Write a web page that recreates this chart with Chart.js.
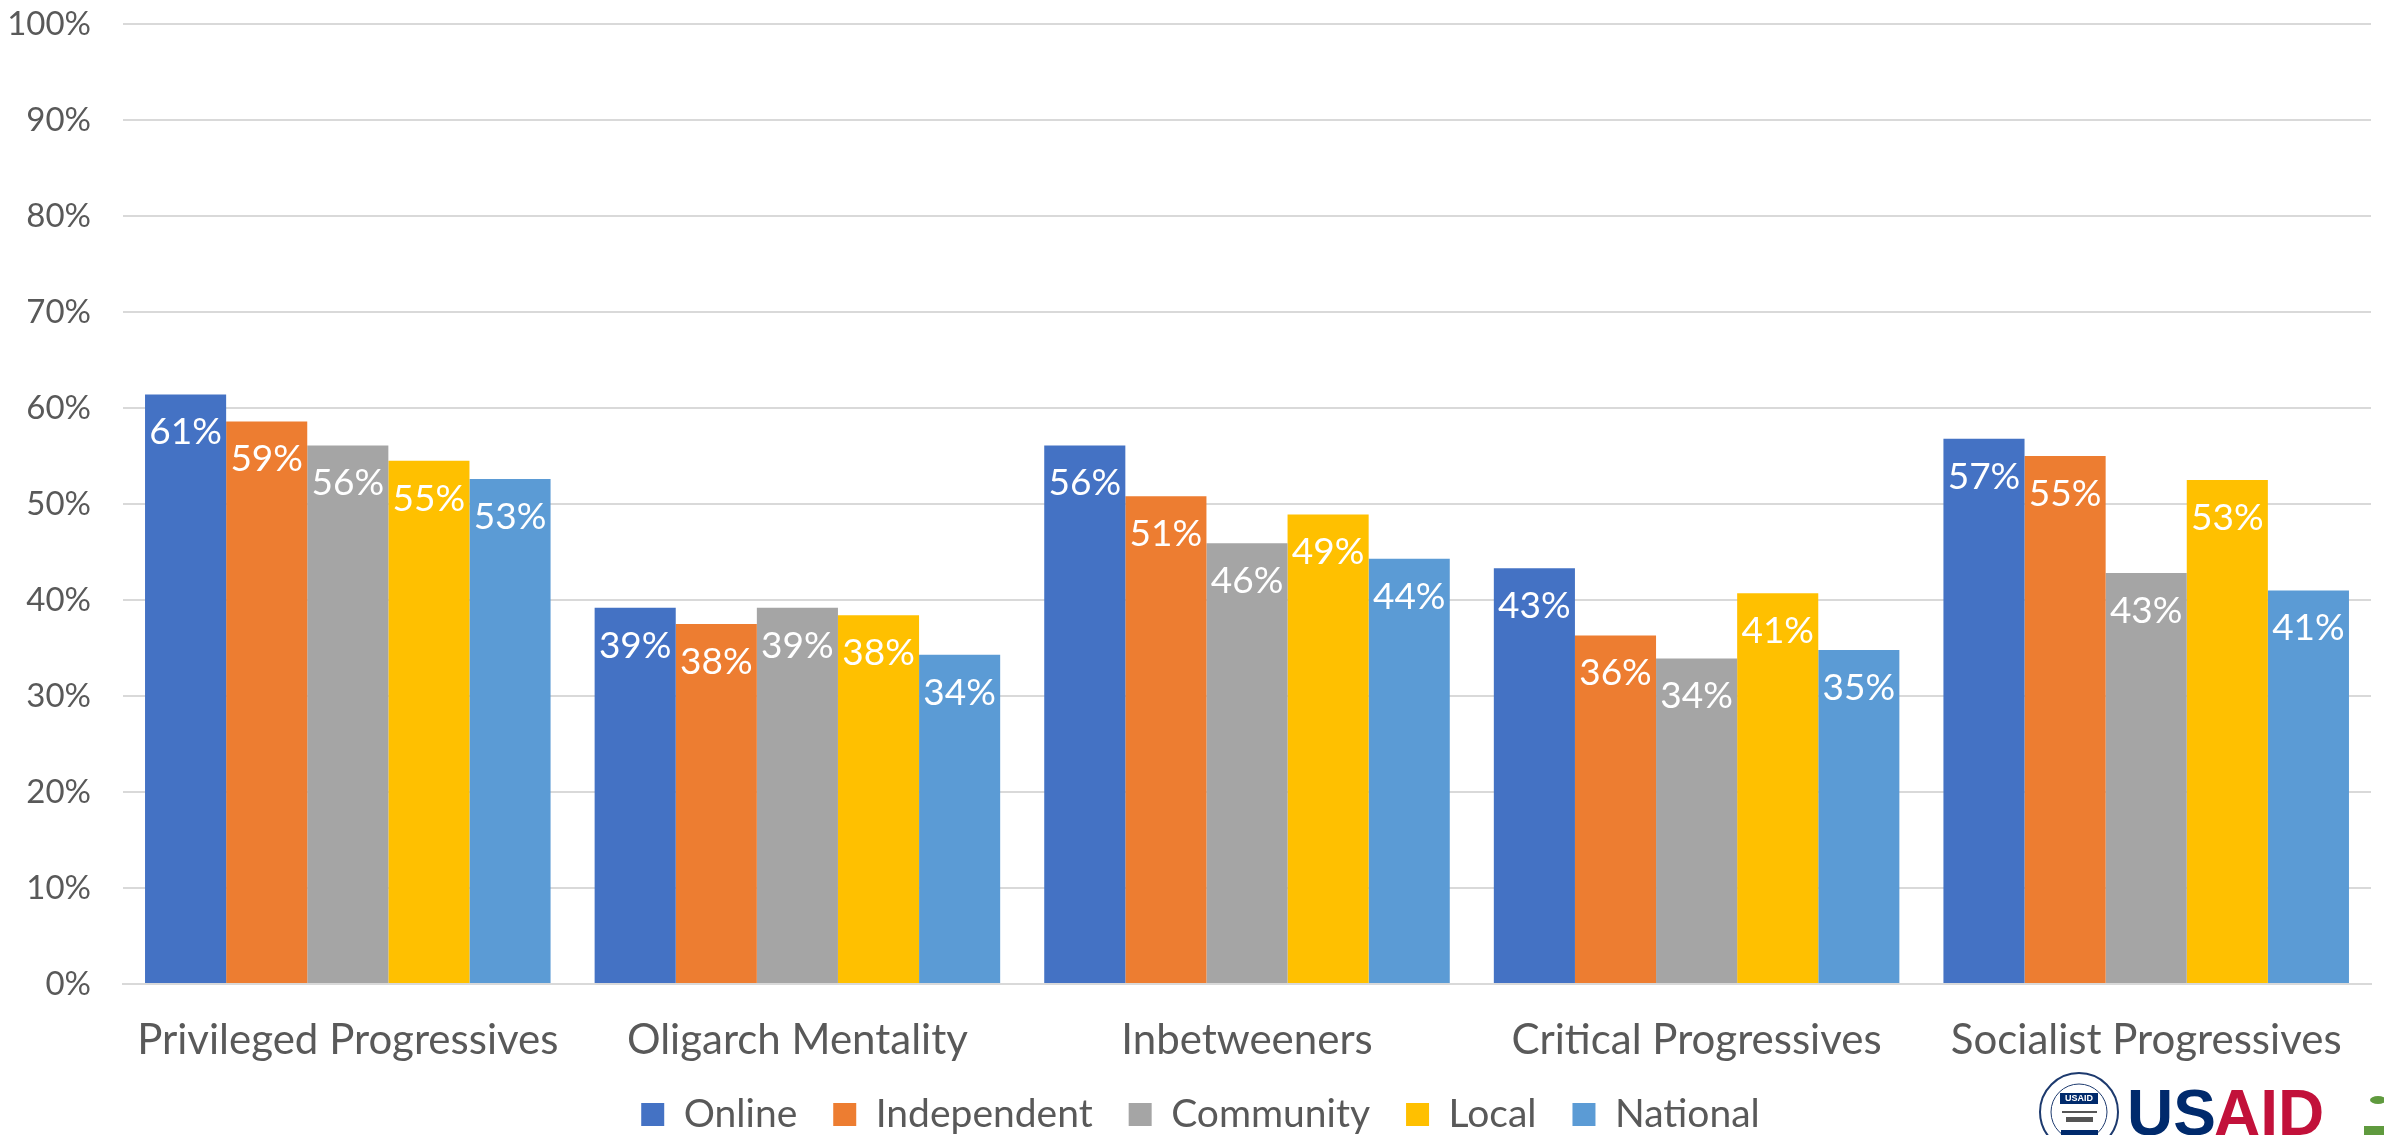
<!DOCTYPE html>
<html>
<head>
<meta charset="utf-8">
<title>Media trust by segment</title>
<script src="https://cdn.jsdelivr.net/npm/chart.js@4"></script>
<style>
  html, body { margin: 0; padding: 0; background: #fff; overflow: hidden; }
  canvas { display: block; }
</style>
</head>
<body>
<canvas id="chart" width="2384" height="1135"></canvas>
<script>
const categories = ["Privileged Progressives", "Oligarch Mentality", "Inbetweeners", "Critical Progressives", "Socialist Progressives"];
const online = [61.4, 39.2, 56.1, 43.3, 56.8];
const independent = [58.6, 37.5, 50.8, 36.3, 55.0];
const community = [56.1, 39.2, 45.9, 33.9, 42.8];
const local = [54.5, 38.4, 48.9, 40.7, 52.5];
const national = [52.6, 34.3, 44.3, 34.8, 41.0];

const fontName = "Lato";
const textGrey = "#595959";

// white value labels just under the top of each bar
const barLabels = {
  id: "barLabels",
  afterDatasetsDraw(chart) {
    const ctx = chart.ctx;
    ctx.save();
    ctx.font = "37px " + fontName;
    ctx.fillStyle = "#fff";
    ctx.textAlign = "center";
    ctx.textBaseline = "middle";
    chart.data.datasets.forEach((ds, i) => {
      chart.getDatasetMeta(i).data.forEach((bar, j) => {
        ctx.fillText(Math.round(ds.data[j]) + "%", bar.x, bar.y + 38);
      });
    });
    ctx.restore();
  }
};

// axis labels get clipped to the scale box, and the legend sits a bit right of centre
const layoutTweaks = {
  id: "layoutTweaks",
  afterLayout(chart) {
    chart.scales.x.bottom = chart.height;
    chart.legend.left += 30;
  }
};

// sponsor logo cut off by the bottom edge
const logo = {
  id: "logo",
  afterDraw(chart) {
    const ctx = chart.ctx;
    ctx.save();
    ctx.strokeStyle = "#1d3a6e";
    ctx.lineWidth = 2;
    ctx.beginPath();
    ctx.arc(2079, 1112, 39, 0, Math.PI * 2);
    ctx.stroke();
    ctx.lineWidth = 1;
    ctx.beginPath();
    ctx.arc(2079, 1112, 28, 0, Math.PI * 2);
    ctx.stroke();
    ctx.fillStyle = "#002a6c";
    ctx.fillRect(2060, 1093, 38, 11);
    ctx.fillRect(2061, 1130, 37, 5);
    ctx.fillStyle = "#fff";
    ctx.font = "bold 9px 'Liberation Sans'";
    ctx.textAlign = "center";
    ctx.textBaseline = "middle";
    ctx.fillText("USAID", 2079, 1099);
    ctx.fillStyle = "#555";
    ctx.fillRect(2062, 1111, 35, 2);
    ctx.fillRect(2066, 1117, 27, 5);
    ctx.textAlign = "left";
    ctx.textBaseline = "alphabetic";
    ctx.font = "bold 64px 'Liberation Sans'";
    ctx.fillStyle = "#002a6c";
    ctx.fillText("US", 2127, 1135);
    const usWidth = ctx.measureText("US").width;
    ctx.fillStyle = "#c2113a";
    ctx.fillText("AID", 2127 + usWidth - 2, 1135);
    ctx.fillStyle = "#5f9a3e";
    ctx.fillRect(2364, 1126, 20, 9);
    ctx.beginPath();
    ctx.ellipse(2378, 1100, 8, 4, 0, 0, Math.PI * 2);
    ctx.fill();
    ctx.restore();
  }
};

const chart = new Chart("chart", {
  type: "bar",
  data: {
    labels: categories,
    datasets: [
      { label: "Online", data: online, backgroundColor: "#4472c4" },
      { label: "Independent", data: independent, backgroundColor: "#ed7d31" },
      { label: "Community", data: community, backgroundColor: "#a5a5a5" },
      { label: "Local", data: local, backgroundColor: "#ffc000" },
      { label: "National", data: national, backgroundColor: "#5b9bd5" }
    ]
  },
  options: {
    responsive: false,
    animation: false,
    barPercentage: 1,
    categoryPercentage: 0.902,
    layout: { padding: { top: 24, right: 13, left: 0, bottom: -9 } },
    scales: {
      x: {
        grid: { display: false },
        border: { color: "#d9d9d9", width: 2 },
        ticks: { color: textGrey, font: { family: fontName, size: 42 }, padding: 23, maxRotation: 0, autoSkip: false },
        afterFit(scale) { scale.height = 75; }
      },
      y: {
        min: 0,
        max: 100,
        grid: { color: "#d9d9d9", lineWidth: 2, drawTicks: false },
        border: { display: false },
        ticks: {
          stepSize: 10,
          padding: 32,
          color: textGrey,
          font: { family: fontName, size: 33 },
          callback: v => v + "%"
        },
        afterFit(scale) {
          scale.width = 123;
          scale.paddingTop = 0;
          scale.paddingBottom = 0;
        }
      }
    },
    plugins: {
      tooltip: { enabled: false },
      legend: {
        position: "bottom",
        labels: { color: textGrey, font: { family: fontName, size: 39 }, boxWidth: 23, boxHeight: 23, padding: 36 }
      }
    }
  },
  plugins: [barLabels, layoutTweaks, logo]
});
</script>
</body>
</html>
